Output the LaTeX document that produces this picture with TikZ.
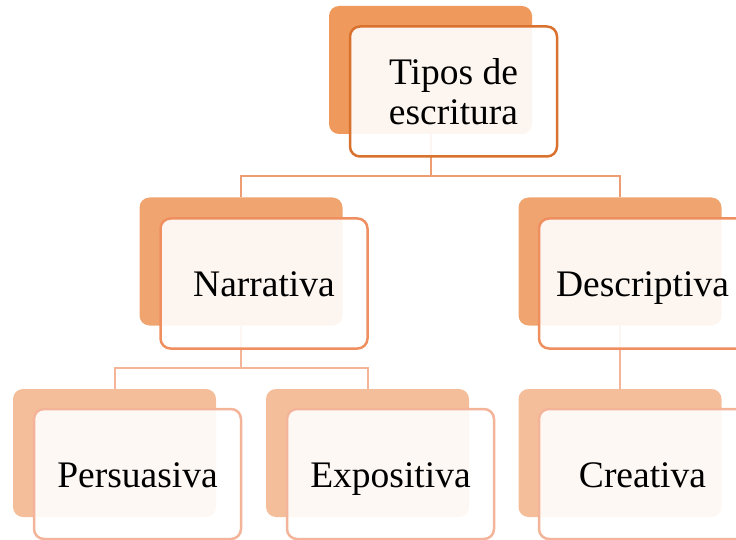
\documentclass[tikz,border=0pt]{standalone}
\usepackage{fontspec}
\setmainfont{Liberation Serif}
\definecolor{backA}{HTML}{EF9A5C}
\definecolor{lineA}{HTML}{D9712F}
\definecolor{backB}{HTML}{F0A570}
\definecolor{lineB}{HTML}{EF8F60}
\definecolor{backC}{HTML}{F5BE9A}
\definecolor{lineC}{HTML}{F3B49A}
\definecolor{connA}{HTML}{EE9C72}
\definecolor{connB}{HTML}{F4B497}
\begin{document}
\begin{tikzpicture}[x=1pt,y=-1pt,
  backbox/.style={rectangle, rounded corners=10pt, draw=none, minimum width=203pt, minimum height=128pt, inner sep=0pt},
  frontbox/.style={rectangle, rounded corners=10pt, line width=2.5pt, fill=white, fill opacity=0.9, text opacity=1, minimum width=207pt, minimum height=130pt, inner sep=0pt, align=center, font=\fontsize{37.5}{40}\selectfont},
  oneline/.style={text height=26pt, text depth=0pt},
  conn/.style={line width=2pt}]
\useasboundingbox (0,0) rectangle (736,540);
% back boxes
\node[backbox, fill=backA] (tb) at (430.5,70) {};
\node[backbox, fill=backB] (nb) at (241,261.5) {};
\node[backbox, fill=backB] (db) at (620,261.5) {};
\node[backbox, fill=backC] (pb) at (114.5,453) {};
\node[backbox, fill=backC] (eb) at (367.5,453) {};
\node[backbox, fill=backC] (cb) at (620,453) {};
% connectors
\draw[conn, connA] (tb.south) -- ++(0,42) coordinate (j1) -| (nb.north);
\draw[conn, connA] (j1) -| (db.north);
\draw[conn, connB] (nb.south) -- ++(0,42) coordinate (j2) -| (pb.north);
\draw[conn, connB] (j2) -| (eb.north);
\draw[conn, connB] (db.south) -- (cb.north);
% front boxes
\node[frontbox, draw=lineA] (t) at (453.5,91.5) {Tipos de\\escritura};
\node[frontbox, oneline, draw=lineB] (n) at (264,283.5) {Narrativa};
\node[frontbox, oneline, draw=lineB] (d) at (642.5,283.5) {Descriptiva};
\node[frontbox, oneline, draw=lineC] (p) at (137.5,474) {Persuasiva};
\node[frontbox, oneline, draw=lineC] (e) at (390.5,474) {Expositiva};
\node[frontbox, oneline, draw=lineC] (c) at (642.5,474) {Creativa};
\end{tikzpicture}
\end{document}
